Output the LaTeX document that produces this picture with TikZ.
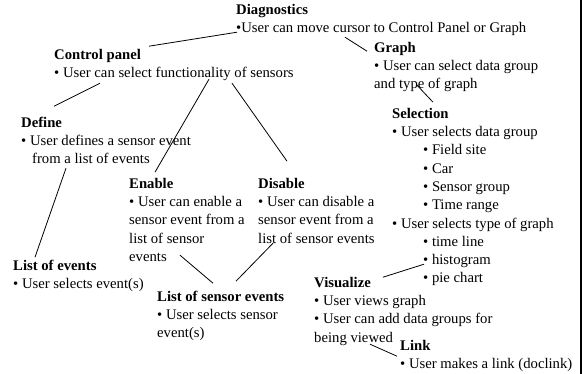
\documentclass[tikz,border=0pt]{standalone}
\usepackage{fontspec}
\setmainfont{Liberation Serif}
\usepackage{tikz}
\usetikzlibrary{calc}

\begin{document}
\begin{tikzpicture}[
    x=1pt, y=-1pt,
    block/.style={anchor=north west, inner sep=0pt, align=left, yshift=12.8pt,
                  font=\fontsize{14.7pt}{18.3pt}\selectfont},
    link/.style={line width=0.8pt, black}
  ]
    \useasboundingbox (0,0) rectangle (582,374);

    % top of the tree
    \node[block] (diag) at (236,14)
      {\strut\textbf{Diagnostics}\\•User can move cursor to Control Panel or Graph};
    \node[block] (ctrl) at (54,59)
      {\strut\textbf{Control panel}\\• User can select functionality of sensors};
    \node[block] (graph) at (374,52)
      {\strut\textbf{Graph}\\• User can select data group\\and type of graph};

    % control panel branch
    \node[block] (define) at (21,127)
      {\strut\textbf{Define}\\• User defines a sensor event\\\hspace*{11pt}from a list of events};
    \node[block] (enable) at (129,188)
      {\strut\textbf{Enable}\\• User can enable a\\sensor event from a\\list of sensor\\events};
    \node[block] (disable) at (258,188)
      {\strut\textbf{Disable}\\• User can disable a\\sensor event from a\\list of sensor events};
    \node[block] (events) at (13,270)
      {\strut\textbf{List of events}\\• User selects event(s)};
    \node[block] (sevents) at (157,301)
      {\strut\textbf{List of sensor events}\\• User selects sensor\\event(s)};

    % graph branch
    \node[block] (sel) at (392,118)
      {\strut\textbf{Selection}\\• User selects data group\\
       \hspace*{31pt}• Field site\\\hspace*{31pt}• Car\\
       \hspace*{31pt}• Sensor group\\\hspace*{31pt}• Time range\\
       • User selects type of graph\\\hspace*{31pt}• time line\\
       \hspace*{31pt}• histogram\\\hspace*{31pt}• pie chart};
    \node[block] (vis) at (314,287)
      {\strut\textbf{Visualize}\\• User views graph\\• User can add data groups for\\being viewed};
    \node[block] (lnk) at (400,350)
      {\strut\textbf{Link}\\• User makes a link (doclink)};

    % connectors
    \draw[link] ($(diag.north west)+(1,31)$) -- ($(ctrl.north west)+(95,0)$);
    \draw[link] ($(diag.north west)+(109,36)$) -- ($(graph.north west)+(-7,12)$);
    \draw[link] ($(ctrl.north west)+(46,37)$) -- ($(define.north west)+(33,-8)$);
    \draw[link] ($(ctrl.north west)+(155,33)$) -- ($(enable.north west)+(26,-3)$);
    \draw[link] ($(ctrl.north west)+(178,37)$) -- ($(disable.north west)+(29,-14)$);
    \draw[link] ($(graph.north west)+(43,46)$) -- ($(sel.north west)+(41,-3)$);
    \draw[link] ($(define.north west)+(45,54)$) -- ($(events.north west)+(22,0)$);
    \draw[link] ($(enable.north west)+(51,80)$) -- ($(sevents.north west)+(56,-5)$);
    \draw[link] ($(disable.north west)+(15,68)$) -- ($(sevents.north west)+(79,-7)$);
    \draw[link] ($(sel.north west)+(32,159)$) -- ($(vis.north west)+(69,3)$);
    \draw[link] ($(vis.north west)+(56,70)$) -- ($(lnk.north west)+(-3,19)$);

    % frame edge on the right
    \draw[line width=2pt] (580.5,0) -- (580.5,374);
  \end{tikzpicture}
\end{document}
